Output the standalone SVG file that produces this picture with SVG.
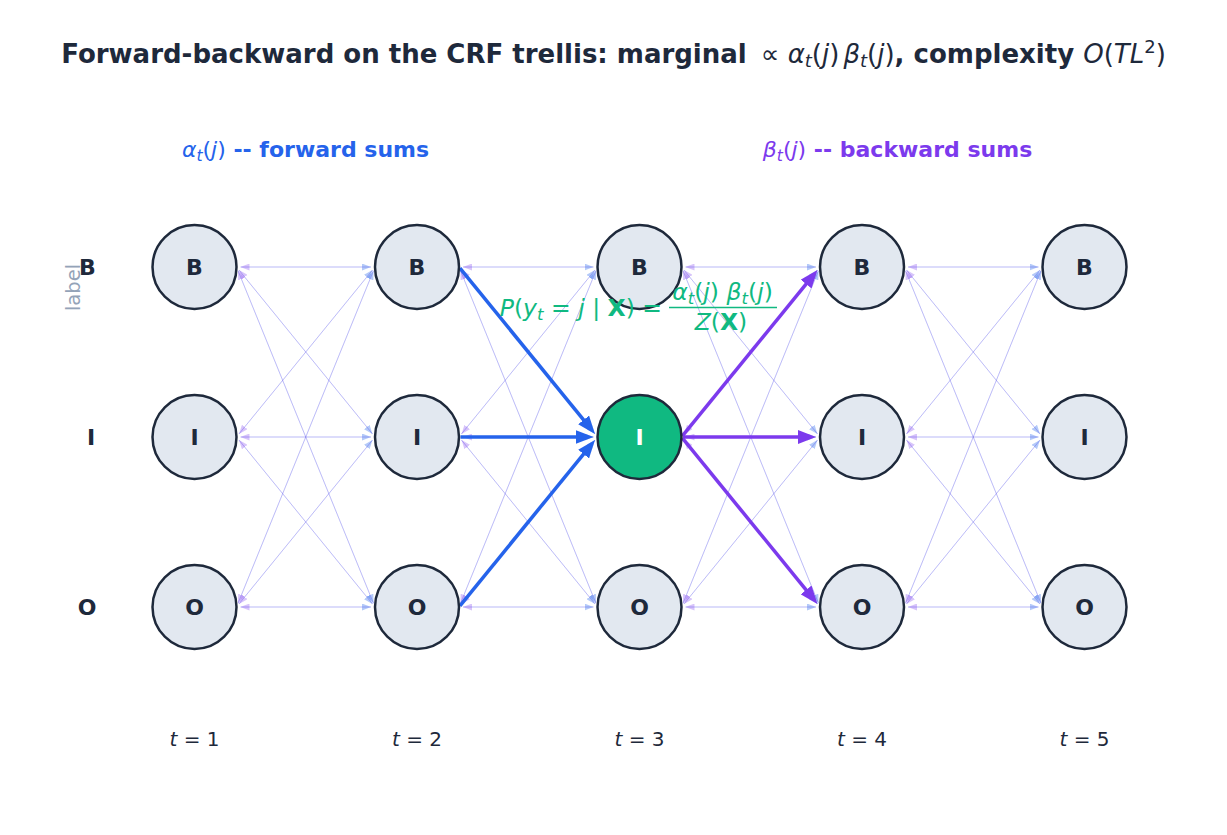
<svg xmlns="http://www.w3.org/2000/svg" width="1227" height="835" viewBox="0 0 1227 835">
<defs>
<style>
text{font-family:"DejaVu Sans","Liberation Sans",sans-serif;}
.title{font-size:26px;font-weight:bold;fill:#1e293b}
.m{font-weight:normal}
.it{font-style:italic}
.node circle{fill:#e2e8f0;stroke:#1e293b;stroke-width:2.5}
.node text{font-size:22px;font-weight:bold;fill:#1e293b;text-anchor:middle}
.hl circle{fill:#10b981}
.hl text{fill:#ffffff}
.ff{stroke:#2563eb;stroke-opacity:.22;stroke-width:1;fill:none;marker-end:url(#hf)}
.fb{stroke:#7c3aed;stroke-opacity:.2;stroke-width:1;fill:none;marker-end:url(#hb)}
.bf{stroke:#2563eb;stroke-width:3.5;fill:none;marker-end:url(#Hf)}
.bb{stroke:#7c3aed;stroke-width:3.5;fill:none;marker-end:url(#Hb)}
.row{font-size:22px;font-weight:bold;fill:#1e293b;text-anchor:middle}
.tl{font-size:20px;fill:#1e293b;text-anchor:middle}
.hdr{font-size:22px;text-anchor:middle}
</style>
<marker id="hf" viewBox="0 0 9 7" refX="9" refY="3.5" markerWidth="9" markerHeight="7" markerUnits="userSpaceOnUse" orient="auto"><path d="M0 0L9 3.5L0 7z" fill="#2563eb" fill-opacity="0.35"/></marker>
<marker id="hb" viewBox="0 0 9 7" refX="9" refY="3.5" markerWidth="9" markerHeight="7" markerUnits="userSpaceOnUse" orient="auto"><path d="M0 0L9 3.5L0 7z" fill="#7c3aed" fill-opacity="0.3"/></marker>
<marker id="Hf" viewBox="0 0 18 14" refX="8" refY="7" markerWidth="18" markerHeight="14" markerUnits="userSpaceOnUse" orient="auto"><path d="M0 0L18 7L0 14z" fill="#2563eb"/></marker>
<marker id="Hb" viewBox="0 0 18 14" refX="8" refY="7" markerWidth="18" markerHeight="14" markerUnits="userSpaceOnUse" orient="auto"><path d="M0 0L18 7L0 14z" fill="#7c3aed"/></marker>
</defs>
<rect width="1227" height="835" fill="#ffffff"/>

<text class="title" x="613.5" y="63" text-anchor="middle">Forward-backward on the CRF trellis: marginal <tspan class="m" dx="5">∝ <tspan class="it">α</tspan><tspan class="it" font-size="18" dy="4">t</tspan><tspan dy="-4">(</tspan><tspan class="it">j</tspan>)<tspan class="it" dx="4">β</tspan><tspan class="it" font-size="18" dy="4">t</tspan><tspan dy="-4">(</tspan><tspan class="it">j</tspan>)</tspan>, complexity <tspan class="m"><tspan class="it">O</tspan>(<tspan class="it">TL</tspan><tspan font-size="18" dy="-10">2</tspan><tspan dy="10">)</tspan></tspan></text>

<text class="hdr" x="305.5" y="157" fill="#2563eb"><tspan class="it">α</tspan><tspan class="it" font-size="15.5" dy="4">t</tspan><tspan dy="-4">(</tspan><tspan class="it">j</tspan>)<tspan font-weight="bold"> -- forward sums</tspan></text>
<text class="hdr" x="897.5" y="157" fill="#7c3aed"><tspan class="it">β</tspan><tspan class="it" font-size="15.5" dy="4">t</tspan><tspan dy="-4">(</tspan><tspan class="it">j</tspan>)<tspan font-weight="bold"> -- backward sums</tspan></text>

<text transform="translate(80,287.5) rotate(-90)" font-size="19.5" fill="#94a3b8" text-anchor="middle">label</text>
<text class="row" x="87.5" y="275">B</text>
<text class="row" x="91" y="445">I</text>
<text class="row" x="87" y="615">O</text>

<g id="connectors">
<g id="faint">
<g transform="translate(194.5,0)">
<path class="ff" d="M46 267L176.5 267"/><path class="ff" d="M44.53 270.1L177.97 433.9"/><path class="ff" d="M43.51 270.7L178.99 603.3"/>
<path class="ff" d="M44.53 433.9L177.97 270.1"/><path class="ff" d="M46 437L176.5 437"/><path class="ff" d="M44.53 440.1L177.97 603.9"/>
<path class="ff" d="M43.51 603.3L178.99 270.7"/><path class="ff" d="M44.53 603.9L177.97 440.1"/><path class="ff" d="M46 607L176.5 607"/>
<path class="fb" d="M176.5 267L46 267"/><path class="fb" d="M177.97 433.9L44.53 270.1"/><path class="fb" d="M178.99 603.3L43.51 270.7"/>
<path class="fb" d="M177.97 270.1L44.53 433.9"/><path class="fb" d="M176.5 437L46 437"/><path class="fb" d="M177.97 603.9L44.53 440.1"/>
<path class="fb" d="M178.99 270.7L43.51 603.3"/><path class="fb" d="M177.97 440.1L44.53 603.9"/><path class="fb" d="M176.5 607L46 607"/>
</g>
<g transform="translate(417,0)">
<path class="ff" d="M46 267L176.5 267"/><path class="ff" d="M44.53 270.1L177.97 433.9"/><path class="ff" d="M43.51 270.7L178.99 603.3"/>
<path class="ff" d="M44.53 433.9L177.97 270.1"/><path class="ff" d="M46 437L176.5 437"/><path class="ff" d="M44.53 440.1L177.97 603.9"/>
<path class="ff" d="M43.51 603.3L178.99 270.7"/><path class="ff" d="M44.53 603.9L177.97 440.1"/><path class="ff" d="M46 607L176.5 607"/>
<path class="fb" d="M176.5 267L46 267"/><path class="fb" d="M177.97 433.9L44.53 270.1"/><path class="fb" d="M178.99 603.3L43.51 270.7"/>
<path class="fb" d="M177.97 270.1L44.53 433.9"/><path class="fb" d="M176.5 437L46 437"/><path class="fb" d="M177.97 603.9L44.53 440.1"/>
<path class="fb" d="M178.99 270.7L43.51 603.3"/><path class="fb" d="M177.97 440.1L44.53 603.9"/><path class="fb" d="M176.5 607L46 607"/>
</g>
<g transform="translate(639.5,0)">
<path class="ff" d="M46 267L176.5 267"/><path class="ff" d="M44.53 270.1L177.97 433.9"/><path class="ff" d="M43.51 270.7L178.99 603.3"/>
<path class="ff" d="M44.53 433.9L177.97 270.1"/><path class="ff" d="M46 437L176.5 437"/><path class="ff" d="M44.53 440.1L177.97 603.9"/>
<path class="ff" d="M43.51 603.3L178.99 270.7"/><path class="ff" d="M44.53 603.9L177.97 440.1"/><path class="ff" d="M46 607L176.5 607"/>
<path class="fb" d="M176.5 267L46 267"/><path class="fb" d="M177.97 433.9L44.53 270.1"/><path class="fb" d="M178.99 603.3L43.51 270.7"/>
<path class="fb" d="M177.97 270.1L44.53 433.9"/><path class="fb" d="M176.5 437L46 437"/><path class="fb" d="M177.97 603.9L44.53 440.1"/>
<path class="fb" d="M178.99 270.7L43.51 603.3"/><path class="fb" d="M177.97 440.1L44.53 603.9"/><path class="fb" d="M176.5 607L46 607"/>
</g>
<g transform="translate(862,0)">
<path class="ff" d="M46 267L176.5 267"/><path class="ff" d="M44.53 270.1L177.97 433.9"/><path class="ff" d="M43.51 270.7L178.99 603.3"/>
<path class="ff" d="M44.53 433.9L177.97 270.1"/><path class="ff" d="M46 437L176.5 437"/><path class="ff" d="M44.53 440.1L177.97 603.9"/>
<path class="ff" d="M43.51 603.3L178.99 270.7"/><path class="ff" d="M44.53 603.9L177.97 440.1"/><path class="ff" d="M46 607L176.5 607"/>
<path class="fb" d="M176.5 267L46 267"/><path class="fb" d="M177.97 433.9L44.53 270.1"/><path class="fb" d="M178.99 603.3L43.51 270.7"/>
<path class="fb" d="M177.97 270.1L44.53 433.9"/><path class="fb" d="M176.5 437L46 437"/><path class="fb" d="M177.97 603.9L44.53 440.1"/>
<path class="fb" d="M178.99 270.7L43.51 603.3"/><path class="fb" d="M177.97 440.1L44.53 603.9"/><path class="fb" d="M176.5 607L46 607"/>
</g>
</g>
<g id="forward-highlight">
<path class="bf" d="M459.95 268.16L588.65 426.15"/>
<path class="bf" d="M460.5 437L583.5 437"/>
<path class="bf" d="M459.95 605.84L588.65 447.85"/>
</g>
<g id="backward-highlight">
<path class="bb" d="M682.45 435.84L811.15 277.85"/>
<path class="bb" d="M683 437L806 437"/>
<path class="bb" d="M682.45 438.16L811.15 596.15"/>
</g>
</g>

<g id="n-B1" class="node"><circle cx="194.5" cy="267" r="42"/><text x="194.5" y="275">B</text></g>
<g id="n-I1" class="node"><circle cx="194.5" cy="437" r="42"/><text x="194.5" y="445">I</text></g>
<g id="n-O1" class="node"><circle cx="194.5" cy="607" r="42"/><text x="194.5" y="615">O</text></g>
<g id="n-B2" class="node"><circle cx="417" cy="267" r="42"/><text x="417" y="275">B</text></g>
<g id="n-I2" class="node"><circle cx="417" cy="437" r="42"/><text x="417" y="445">I</text></g>
<g id="n-O2" class="node"><circle cx="417" cy="607" r="42"/><text x="417" y="615">O</text></g>
<g id="n-B3" class="node"><circle cx="639.5" cy="267" r="42"/><text x="639.5" y="275">B</text></g>
<g id="n-I3" class="node hl"><circle cx="639.5" cy="437" r="42"/><text x="639.5" y="445">I</text></g>
<g id="n-O3" class="node"><circle cx="639.5" cy="607" r="42"/><text x="639.5" y="615">O</text></g>
<g id="n-B4" class="node"><circle cx="862" cy="267" r="42"/><text x="862" y="275">B</text></g>
<g id="n-I4" class="node"><circle cx="862" cy="437" r="42"/><text x="862" y="445">I</text></g>
<g id="n-O4" class="node"><circle cx="862" cy="607" r="42"/><text x="862" y="615">O</text></g>
<g id="n-B5" class="node"><circle cx="1084.5" cy="267" r="42"/><text x="1084.5" y="275">B</text></g>
<g id="n-I5" class="node"><circle cx="1084.5" cy="437" r="42"/><text x="1084.5" y="445">I</text></g>
<g id="n-O5" class="node"><circle cx="1084.5" cy="607" r="42"/><text x="1084.5" y="615">O</text></g>

<g id="formula" fill="#10b981" font-size="23.5">
<text x="662" y="315.5" text-anchor="end"><tspan class="it">P</tspan>(<tspan class="it">y</tspan><tspan class="it" font-size="16.5" dy="4">t</tspan><tspan dy="-4"> = </tspan><tspan class="it">j</tspan> | <tspan font-weight="bold">X</tspan>) =</text>
<line x1="669" y1="307.5" x2="777" y2="307.5" stroke="#10b981" stroke-width="1.3"/>
<text x="722.5" y="300" text-anchor="middle"><tspan class="it">α</tspan><tspan class="it" font-size="16.5" dy="4">t</tspan><tspan dy="-4">(</tspan><tspan class="it">j</tspan>) <tspan class="it">β</tspan><tspan class="it" font-size="16.5" dy="4">t</tspan><tspan dy="-4">(</tspan><tspan class="it">j</tspan>)</text>
<text x="721" y="330" text-anchor="middle"><tspan class="it">Z</tspan>(<tspan font-weight="bold">X</tspan>)</text>
</g>

<g id="time-labels">
<text class="tl" x="194.5" y="746"><tspan class="it">t</tspan> = 1</text>
<text class="tl" x="417" y="746"><tspan class="it">t</tspan> = 2</text>
<text class="tl" x="639.5" y="746"><tspan class="it">t</tspan> = 3</text>
<text class="tl" x="862" y="746"><tspan class="it">t</tspan> = 4</text>
<text class="tl" x="1084.5" y="746"><tspan class="it">t</tspan> = 5</text>
</g>
</svg>
